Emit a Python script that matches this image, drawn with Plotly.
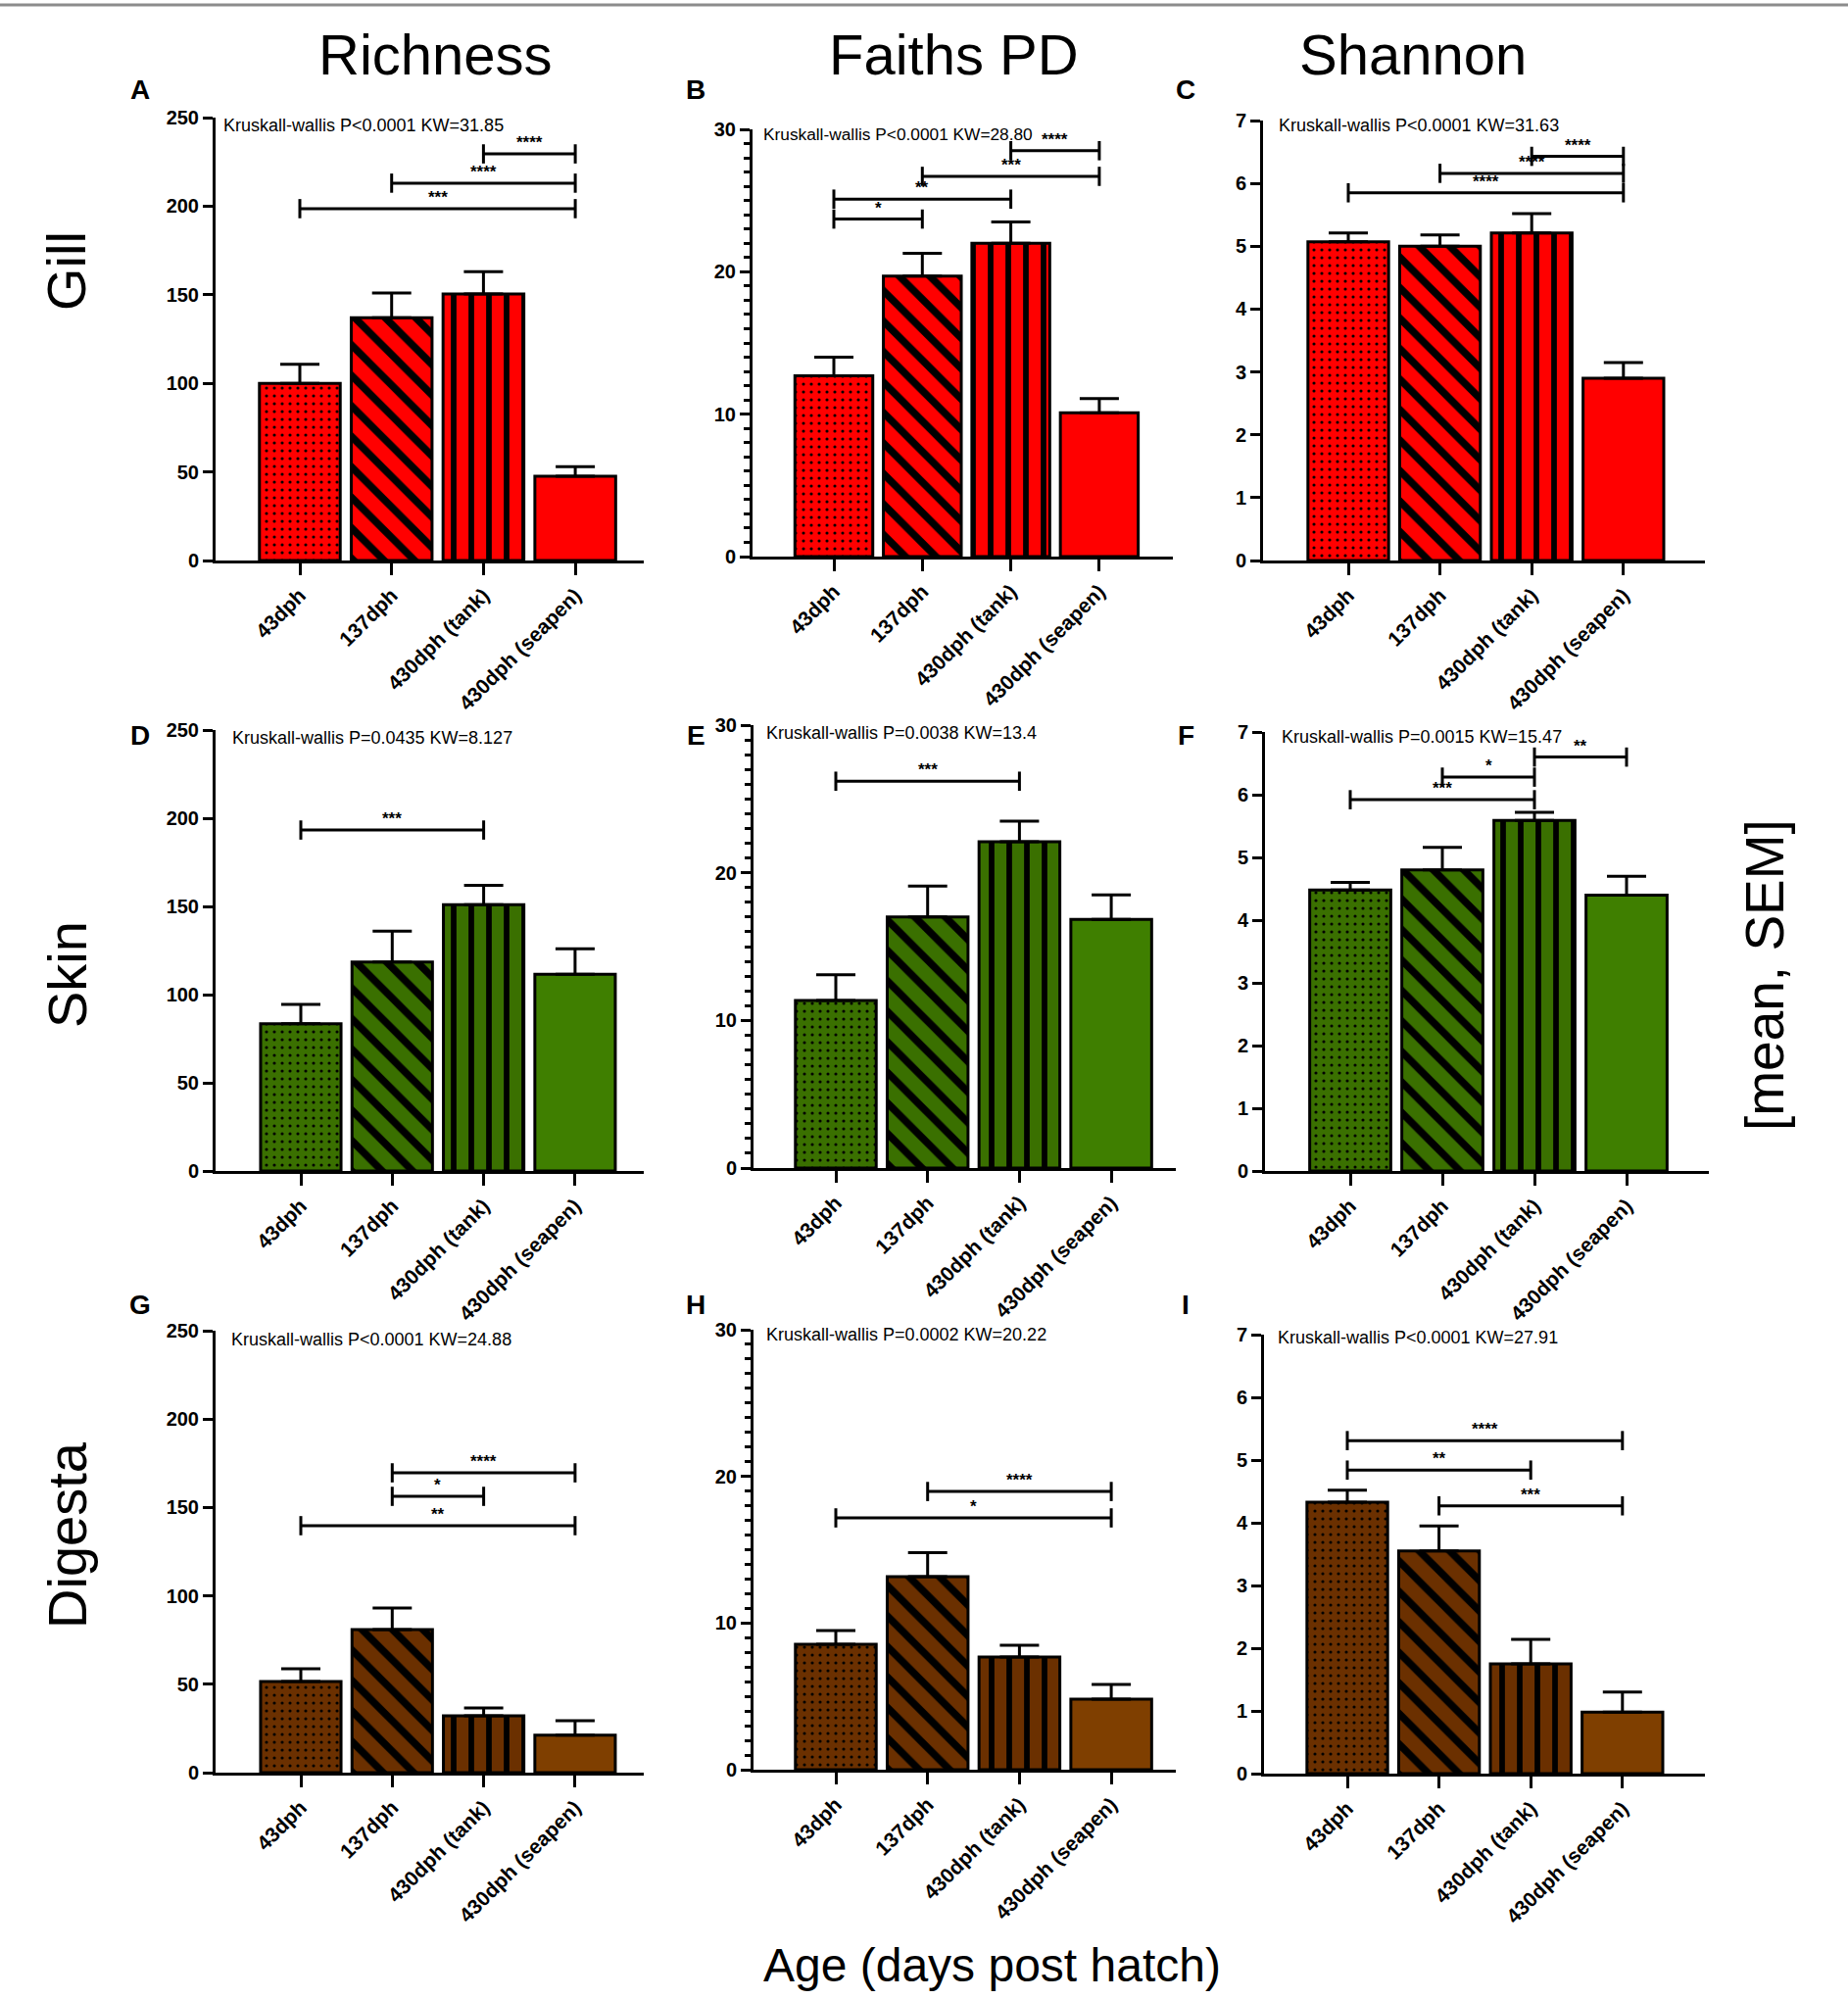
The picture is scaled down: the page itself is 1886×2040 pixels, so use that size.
import plotly.graph_objects as go

W, H = 1886, 2040

groups = ["43dph", "137dph", "430dph (tank)", "430dph (seapen)"]
metrics = ["Richness", "Faiths PD", "Shannon"]
tissues = ["Gill", "Skin", "Digesta"]
letters = ["A", "B", "C", "D", "E", "F", "G", "H", "I"]

# bar heights (mean) and upper whisker length (SEM)
gill_richness = [100, 137, 150.5, 47.5]
gill_richness_sem = [10.8, 14, 12.5, 5.5]
gill_faith = [12.7, 19.7, 22.0, 10.1]
gill_faith_sem = [1.3, 1.6, 1.5, 1.0]
gill_shannon = [5.07, 5.0, 5.21, 2.9]
gill_shannon_sem = [0.14, 0.18, 0.31, 0.25]

skin_richness = [83.5, 118.5, 151, 111.5]
skin_richness_sem = [11, 17.5, 11, 14.5]
skin_faith = [11.35, 17.0, 22.1, 16.85]
skin_faith_sem = [1.75, 2.1, 1.4, 1.65]
skin_shannon = [4.48, 4.8, 5.59, 4.4]
skin_shannon_sem = [0.12, 0.36, 0.13, 0.3]

digesta_richness = [51.6, 81, 32.2, 21.2]
digesta_richness_sem = [7.2, 12.1, 4.4, 8.2]
digesta_faith = [8.55, 13.16, 7.68, 4.81]
digesta_faith_sem = [0.94, 1.64, 0.8, 1.0]
digesta_shannon = [4.33, 3.55, 1.75, 0.98]
digesta_shannon_sem = [0.19, 0.4, 0.39, 0.32]

kw_text = [
  "Kruskall-wallis P<0.0001 KW=31.85",
  "Kruskall-wallis P<0.0001 KW=28.80",
  "Kruskall-wallis P<0.0001 KW=31.63",
  "Kruskall-wallis P=0.0435 KW=8.127",
  "Kruskall-wallis P=0.0038 KW=13.4",
  "Kruskall-wallis P=0.0015 KW=15.47",
  "Kruskall-wallis P<0.0001 KW=24.88",
  "Kruskall-wallis P=0.0002 KW=20.22",
  "Kruskall-wallis P<0.0001 KW=27.91",
]

# pairwise comparisons: (group from, group to, bracket height, stars)
gill_richness_sig = [(2, 3, 229.5, "****"), (1, 3, 213, "****"), (0, 3, 198.6, "***")]
gill_faith_sig = [(2, 3, 28.5, "****"), (1, 3, 26.7, "***"), (0, 2, 25.1, "**"), (0, 1, 23.7, "*")]
gill_shannon_sig = [(2, 3, 6.43, "****"), (1, 3, 6.16, "****"), (0, 3, 5.85, "****")]
skin_richness_sig = [(0, 2, 193.3, "***")]
skin_faith_sig = [(0, 2, 26.2, "***")]
skin_shannon_sig = [(2, 3, 6.6, "**"), (1, 2, 6.28, "*"), (0, 2, 5.92, "***")]
digesta_richness_sig = [(1, 3, 169.6, "****"), (1, 2, 156.3, "*"), (0, 3, 139.7, "**")]
digesta_faith_sig = [(1, 3, 18.97, "****"), (0, 3, 17.17, "*")]
digesta_shannon_sig = [(0, 3, 5.31, "****"), (0, 2, 4.84, "**"), (1, 3, 4.27, "***")]

means = [gill_richness, gill_faith, gill_shannon,
         skin_richness, skin_faith, skin_shannon,
         digesta_richness, digesta_faith, digesta_shannon]
sems = [gill_richness_sem, gill_faith_sem, gill_shannon_sem,
        skin_richness_sem, skin_faith_sem, skin_shannon_sem,
        digesta_richness_sem, digesta_faith_sem, digesta_shannon_sem]
sigs = [gill_richness_sig, gill_faith_sig, gill_shannon_sig,
        skin_richness_sig, skin_faith_sig, skin_shannon_sig,
        digesta_richness_sig, digesta_faith_sig, digesta_shannon_sig]

y_max = [250, 30, 7]
y_dtick = [50, 10, 1]

pattern_fill = ["#ff0000", "#3a7000", "#6b3000"]
plain_fill = ["#ff0000", "#3f7f00", "#7f3f00"]
# per group: pattern shape, tile size, solidity
bar_shapes = [".", "\\", "|", ""]
bar_psize = [8, 22, 18, 8]
bar_solid = [0.12, 0.34, 0.32, 0.0]

# panel geometry in pixels: y-axis x, first tick x, tick spacing, axis right end, top, bottom
geom = [
  (220, 306, 93.7, 657, 120, 572),
  (768, 851, 90.3, 1197, 132, 568),
  (1289, 1376, 93.6, 1740, 123, 572),
  (220, 307, 93.3, 657, 745, 1195),
  (769, 853, 93.7, 1200, 740, 1192),
  (1291, 1378, 94.0, 1744, 747, 1195),
  (220, 307, 93.3, 657, 1358, 1809),
  (769, 853, 93.7, 1200, 1357, 1806),
  (1290, 1375, 93.6, 1740, 1362, 1810),
]
# KW label: offset from axis, y centre, font size
kw_pos = [(6, 128, 18), (9, 137, 17.3), (14, 128, 18), (15, 753, 18), (11, 748, 18),
          (15, 752, 18), (14, 1367, 18), (11, 1362, 18), (12, 1365, 18)]

FONT = "Liberation Sans, Arial, sans-serif"

def px_x(x):
  return x / W

def px_y(y):
  return 1 - y / H

fig = go.Figure()
annotations = []
layout_axes = {}

for k in range(9):
  r, c = divmod(k, 3)
  sfx = "" if k == 0 else str(k + 1)
  ax0, t0, sp, ax1, top, bot = geom[k]

  for i, g in enumerate(groups):
    fill = plain_fill[r] if bar_shapes[i] == "" else pattern_fill[r]
    pattern = dict(shape=bar_shapes[i], fgcolor="black", bgcolor=fill, fgopacity=1,
                   size=bar_psize[i], solidity=bar_solid[i], fillmode="replace")
    fig.add_trace(go.Bar(
      x=[g], y=[means[k][i]], xaxis="x" + sfx, yaxis="y" + sfx, width=0.88,
      marker=dict(color=fill, line=dict(color="black", width=3), pattern=pattern),
      error_y=dict(type="data", symmetric=False, array=[sems[k][i]], arrayminus=[0],
                   color="black", thickness=3, width=20),
      showlegend=False, hoverinfo="skip",
    ))

  for a, b, h, stars in sigs[k]:
    fig.add_trace(go.Scatter(
      x=[groups[a], groups[b]], y=[h, h], xaxis="x" + sfx, yaxis="y" + sfx,
      mode="lines+markers", line=dict(color="black", width=3),
      marker=dict(symbol="line-ns", size=14, color="black", line=dict(color="black", width=3)),
      showlegend=False, hoverinfo="skip",
    ))
    annotations.append(dict(
      x=(a + b) / 2, y=h, xref="x" + sfx, yref="y" + sfx, text=stars, showarrow=False,
      yanchor="bottom", xanchor="center", font=dict(family=FONT, size=17, color="black", weight="bold"),
    ))

  layout_axes["xaxis" + sfx] = dict(
    domain=[px_x(ax0), px_x(ax1)], range=[(ax0 - t0) / sp, (ax1 - t0) / sp],
    anchor="y" + sfx, showline=True, linewidth=3, linecolor="black",
    ticks="outside", ticklen=12, tickwidth=3, tickcolor="black", tickangle=-45,
    tickfont=dict(family=FONT, size=21, color="black", weight="bold"),
    showgrid=False, zeroline=False, fixedrange=True, automargin=False,
  )
  yax = dict(
    domain=[px_y(bot), px_y(top)], range=[0, y_max[c]], anchor="x" + sfx,
    showline=True, linewidth=3, linecolor="black",
    ticks="outside", ticklen=10, tickwidth=3, tickcolor="black",
    tick0=0, dtick=y_dtick[c],
    tickfont=dict(family=FONT, size=20, color="black", weight="bold"),
    showgrid=False, zeroline=False, fixedrange=True, automargin=False,
  )
  if c == 1:
    yax["minor"] = dict(dtick=1, ticks="outside", ticklen=6, tickwidth=3, tickcolor="black", showgrid=False)
  layout_axes["yaxis" + sfx] = yax

  dx, ky, fs = kw_pos[k]
  annotations.append(dict(
    x=px_x(ax0 + dx), y=px_y(ky), xref="paper", yref="paper", text=kw_text[k],
    showarrow=False, xanchor="left", yanchor="middle",
    font=dict(family=FONT, size=fs, color="black"),
  ))

# panel letters
letter_x = [143, 710, 1210]
letter_y = [92, 750, 1331]
for k, lt in enumerate(letters):
  r, c = divmod(k, 3)
  annotations.append(dict(
    x=px_x(letter_x[c]), y=px_y(letter_y[r]), xref="paper", yref="paper", text=lt,
    showarrow=False, xanchor="center", yanchor="middle",
    font=dict(family=FONT, size=28, color="black", weight="bold"),
  ))

# column titles
title_x = [444, 973, 1442]
for c, m in enumerate(metrics):
  annotations.append(dict(
    x=px_x(title_x[c]), y=px_y(55), xref="paper", yref="paper", text=m,
    showarrow=False, xanchor="center", yanchor="middle",
    font=dict(family=FONT, size=58, color="black"),
  ))

# row labels
row_y = [277, 995, 1567]
for r, t in enumerate(tissues):
  annotations.append(dict(
    x=px_x(68), y=px_y(row_y[r]), xref="paper", yref="paper", text=t,
    showarrow=False, xanchor="center", yanchor="middle", textangle=-90,
    font=dict(family=FONT, size=56, color="black"),
  ))

annotations.append(dict(
  x=px_x(1801), y=px_y(995), xref="paper", yref="paper", text="[mean, SEM]",
  showarrow=False, xanchor="center", yanchor="middle", textangle=-90,
  font=dict(family=FONT, size=55, color="black"),
))
annotations.append(dict(
  x=px_x(1012), y=px_y(2005), xref="paper", yref="paper", text="Age (days post hatch)",
  showarrow=False, xanchor="center", yanchor="middle",
  font=dict(family=FONT, size=48, color="black"),
))

fig.update_layout(
  width=W, height=H, margin=dict(l=0, r=0, t=0, b=0, autoexpand=False),
  paper_bgcolor="white", plot_bgcolor="white", barmode="overlay",
  annotations=annotations,
  shapes=[dict(type="line", xref="paper", yref="paper", x0=0, x1=1, y0=px_y(5), y1=px_y(5),
               line=dict(color="#8c8c8c", width=3))],
  **layout_axes,
)

# drop the browser's default page margin so the figure sits at the page origin
fig.write_html("out.html", config={"displayModeBar": False},
               post_script="document.body.style.margin = '0px';")
